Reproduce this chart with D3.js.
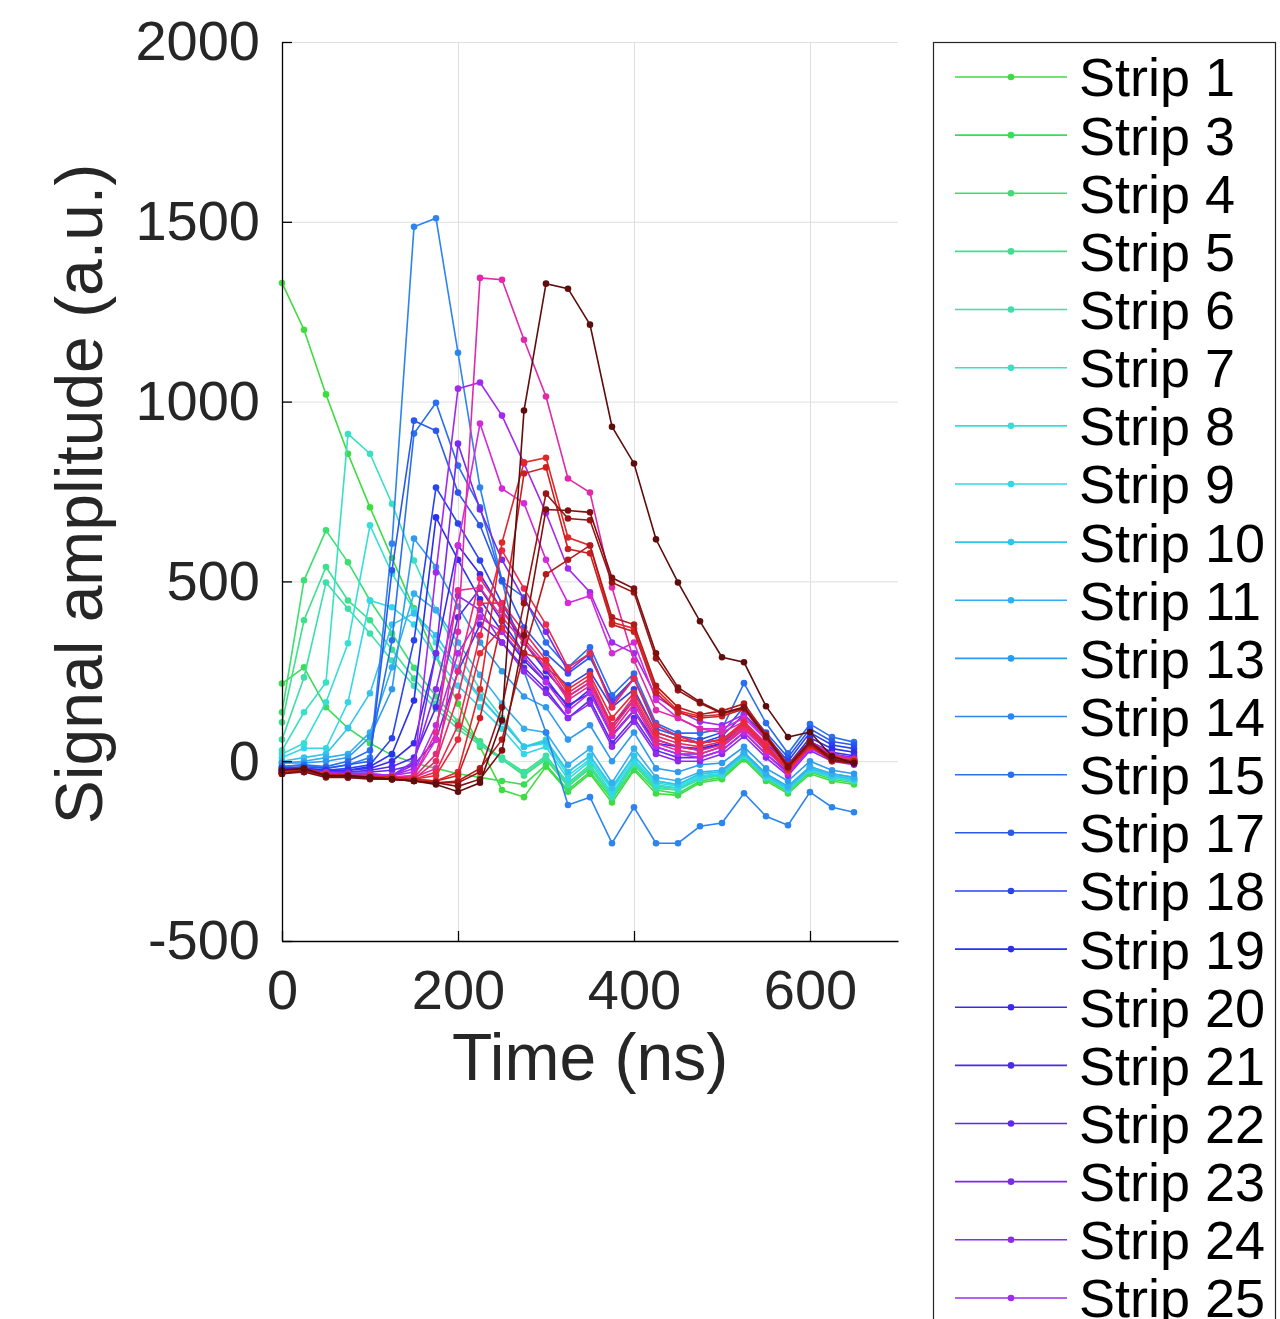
<!DOCTYPE html>
<html>
<head>
<meta charset="utf-8">
<script src="https://cdn.jsdelivr.net/npm/d3@7"></script>
<style>
    body { margin: 0; background: #fff; }
    svg { display: block; font-family: "Liberation Sans", Arial, Helvetica, sans-serif; }
    .grid line { stroke: #dfdfdf; stroke-width: 1; }
    .grid path { display: none; }
    .axis path, .axis line { stroke: #000; stroke-width: 1.3; }
    .axis text { font-size: 56px; fill: #262626; }
    .title2 { font-size: 66px; fill: #262626; }
    .legend-label { font-size: 54px; fill: #000; }
</style>
</head>
<body>
<div id="chart"></div>
<script>

// sample times (ns)
var timeNs = [0, 25, 50, 75, 100, 125, 150, 175, 200, 225, 250, 275, 300, 325,
    350, 375, 400, 425, 450, 475, 500, 525, 550, 575, 600, 625, 650];

var stripNumbers = [1, 3, 4, 5, 6, 7, 8, 9, 10, 11, 13, 14, 15, 17, 18, 19, 20, 21,
    22, 23, 24, 25, 26, 27, 28, 29, 30, 31, 33, 34, 35, 36, 37, 38, 39, 40];

var yTicks = [-500, 0, 500, 1000, 1500, 2000];
var xTicks = [0, 200, 400, 600];

// signal amplitude (a.u.) per strip, one value per sample time
var s01 = [1330, 1200, 1020, 855, 706, 565, 425, 290, 160, 40, -80, -100, -15, -85, -35, -115, -25, -90, -95, -60, -50, 5, -55, -90, -35, -55, -65];
var s03 = [216, 261, 150, 92, 50, 17, -5, -20, -35, -45, -55, -65, -10, -80, -30, -105, -20, -80, -90, -55, -45, 10, -50, -85, -30, -50, -60];
var s04 = [136, 503, 642, 553, 447, 355, 260, 180, 110, 55, 5, -40, 5, -70, -20, -100, -10, -75, -80, -45, -40, 15, -45, -80, -25, -45, -55];
var s05 = [108, 392, 540, 447, 392, 310, 230, 160, 100, 50, 10, -30, 15, -60, -10, -95, -5, -70, -75, -45, -35, 20, -40, -75, -20, -40, -50];
var s06 = [60, 233, 497, 424, 355, 280, 210, 145, 90, 45, 5, -35, 10, -65, -15, -100, -10, -75, -80, -50, -40, 15, -45, -80, -25, -45, -55];
var s07 = [30, 136, 219, 910, 855, 716, 558, 420, 300, 200, 120, 40, 60, -30, 15, -70, 15, -55, -65, -35, -30, 25, -35, -70, -15, -35, -45];
var s08 = [20, 50, 164, 328, 656, 522, 420, 330, 250, 175, 110, 40, 50, -40, 5, -80, 5, -60, -70, -40, -35, 20, -40, -75, -20, -40, -50];
var s09 = [10, 36, 36, 164, 447, 428, 380, 290, 210, 150, 90, 20, 40, -50, 0, -90, 0, -65, -75, -45, -35, 15, -45, -80, -25, -45, -55];
var s10 = [0, 10, 20, 92, 189, 380, 411, 350, 260, 180, 110, 40, 55, -30, 15, -75, 15, -55, -65, -35, -30, 20, -40, -75, -20, -40, -50];
var s11 = [-5, 0, 10, 20, 80, 261, 466, 420, 330, 240, 160, 90, 80, -10, 35, -60, 35, -45, -55, -30, -25, 25, -35, -70, -15, -35, -45];
var s13 = [-5, -5, 0, 10, 67, 200, 619, 540, 430, 330, 250, 180, 150, 60, 100, 0, 80, -20, -30, -10, -5, 40, -20, -55, 0, -25, -35];
var s14 = [-15, -10, -20, -10, 10, 605, 1486, 1510, 1136, 761, 503, 250, 80, -122, -100, -228, -128, -228, -228, -181, -172, -89, -153, -178, -86, -128, -142];
var s15 = [-15, -10, -15, 0, 30, 336, 911, 997, 822, 706, 500, 456, 330, 261, 317, 183, 244, 106, 78, 78, 90, 217, 106, 22, 103, 67, 53];
var s17 = [-20, -15, -20, -10, 0, 531, 947, 919, 747, 656, 503, 372, 300, 244, 289, 167, 230, 90, 70, 60, 80, 150, 80, 10, 90, 55, 45];
var s18 = [-20, -20, -25, -20, -10, 64, 336, 761, 661, 558, 439, 330, 260, 211, 250, 150, 200, 80, 60, 50, 70, 130, 70, 0, 80, 45, 35];
var s19 = [-20, -20, -25, -25, -15, 20, 169, 678, 560, 450, 360, 280, 220, 156, 189, 72, 142, 50, 40, 35, 50, 110, 50, -10, 65, 35, 25];
var s20 = [-25, -20, -30, -25, -20, 0, 50, 300, 600, 520, 420, 330, 250, 180, 220, 100, 170, 60, 40, 30, 50, 100, 40, -20, 55, 25, 15];
var s21 = [-25, -20, -30, -30, -25, -15, 10, 150, 400, 480, 390, 300, 230, 150, 200, 70, 140, 40, 20, 20, 40, 90, 30, -25, 45, 15, 5];
var s22 = [-25, -25, -30, -30, -30, -25, -10, 60, 250, 380, 330, 260, 200, 120, 170, 50, 120, 30, 10, 10, 30, 80, 20, -30, 40, 10, 0];
var s23 = [-30, -30, -35, -35, -40, -40, -10, 300, 883, 700, 560, 450, 360, 250, 300, 160, 230, 100, 70, 50, 60, 100, 40, -20, 50, 20, 10];
var s24 = [-30, -25, -35, -35, -35, -40, 0, 200, 460, 420, 330, 250, 190, 120, 160, 40, 110, 20, 0, 0, 20, 70, 10, -40, 30, 0, -10];
var s25 = [-30, -25, -30, -35, -35, -40, -20, 525, 1036, 1053, 961, 828, 690, 536, 470, 330, 300, 180, 140, 110, 100, 130, 60, -20, 50, 10, 0];
var s26 = [-30, -30, -35, -40, -40, -40, -30, 100, 300, 400, 360, 290, 220, 140, 190, 70, 140, 40, 20, 10, 30, 80, 20, -35, 35, 5, -5];
var s27 = [-30, -30, -35, -40, -40, -45, -40, 60, 600, 939, 758, 717, 560, 440, 460, 300, 330, 170, 120, 90, 90, 120, 60, -10, 55, 20, 5];
var s28 = [-30, -30, -35, -40, -45, -45, -45, -20, 360, 1344, 1339, 1172, 1014, 786, 747, 483, 280, 142, 120, 90, 80, 110, 50, -30, 40, 10, 0];
var s29 = [-30, -25, -35, -40, -40, -45, -40, 80, 475, 483, 400, 330, 260, 170, 210, 80, 160, 50, 30, 20, 40, 90, 30, -25, 40, 10, 0];
var s30 = [-30, -25, -35, -40, -45, -45, -45, 20, 250, 508, 420, 340, 270, 180, 220, 90, 170, 60, 40, 30, 45, 95, 35, -25, 40, 10, 0];
var s31 = [-30, -25, -35, -40, -45, -45, -50, 0, 180, 439, 440, 360, 281, 190, 230, 100, 180, 70, 50, 40, 55, 100, 40, -20, 45, 15, 5];
var s33 = [-30, -25, -40, -40, -45, -45, -50, -30, 100, 350, 586, 480, 380, 260, 300, 150, 230, 100, 70, 50, 60, 110, 45, -20, 45, 10, 0];
var s34 = [-35, -25, -40, -40, -45, -50, -50, -40, 60, 300, 372, 300, 281, 200, 240, 120, 190, 80, 60, 50, 60, 105, 40, -25, 40, 5, -5];
var s35 = [-30, -20, -35, -40, -40, -45, -50, -55, -30, 200, 608, 831, 844, 622, 600, 386, 369, 200, 140, 125, 130, 150, 70, -15, 50, 5, 0];
var s36 = [-35, -20, -40, -40, -45, -45, -50, -55, -40, 120, 392, 800, 817, 590, 578, 380, 360, 190, 135, 120, 125, 145, 65, -20, 45, 0, -5];
var s37 = [-35, -25, -40, -45, -45, -50, -55, -60, -55, -20, 60, 300, 520, 560, 600, 400, 380, 210, 150, 130, 140, 160, 75, -10, 55, 10, 0];
var s38 = [-35, -25, -40, -45, -45, -50, -55, -60, -60, -30, 150, 439, 744, 675, 670, 497, 469, 286, 197, 161, 133, 147, 67, -17, 50, 3, -6];
var s39 = [-35, -30, -45, -45, -50, -50, -55, -60, -70, -50, 30, 350, 700, 697, 692, 510, 480, 300, 205, 165, 135, 150, 70, -15, 55, 5, -5];
var s40 = [-25, -20, -40, -40, -45, -50, -55, -65, -85, -60, 114, 975, 1328, 1314, 1214, 930, 828, 617, 497, 389, 289, 275, 153, 67, 81, 14, -6];

var amplitudes = [s01, s03, s04, s05, s06, s07, s08, s09, s10, s11, s13, s14, s15, s17, s18, s19,
    s20, s21, s22, s23, s24, s25, s26, s27, s28, s29, s30, s31, s33, s34, s35, s36, s37, s38, s39, s40];

var stripColors = ['#3fdc3f', '#3ddc55', '#3ddf70', '#3de08c', '#3de0a8', '#38e0c4', '#35dfd8', '#33d8e6',
    '#33c4ee', '#33aeee', '#2f99ee', '#2c84ee', '#2a70ee', '#2a58ee', '#2a44ee', '#2a30ee', '#3a2aee',
    '#4c2aee', '#5e2aee', '#782aee', '#8c2aee', '#a22aee', '#bb2aea', '#d42ad8', '#e02aa8', '#e82a90',
    '#ea2a78', '#ec2a62', '#ec2a4c', '#ea2a38', '#e02828', '#cc2020', '#b41a1a', '#9a1414', '#7e1010', '#5e0c0c'];


SignalChart = function(_parentElement) {
    this.parentElement = _parentElement;
    this.initVis();
};

SignalChart.prototype.initVis = function() {
    var vis = this;

    vis.margin = {top: 42, left: 282};
    vis.width = 616;
    vis.height = 899;

    vis.svg = d3.select(vis.parentElement)
        .append("svg")
        .attr("width", 1280)
        .attr("height", 1319);

    vis.chart = vis.svg.append("g")
        .attr("transform", "translate(" + vis.margin.left + "," + vis.margin.top + ")");

    vis.x = d3.scaleLinear()
        .domain([0, 700])
        .range([0, vis.width]);

    vis.y = d3.scaleLinear()
        .domain([-500, 2000])
        .range([vis.height, 0]);

    vis.wrangleData();
};

SignalChart.prototype.wrangleData = function() {
    var vis = this;

    vis.series = stripNumbers.map(function(strip, i) {
        return {
            name: "Strip " + strip,
            color: stripColors[i],
            values: timeNs.map(function(t, j) { return {t: t, v: amplitudes[i][j]}; })
        };
    });

    vis.updateVis();
};

SignalChart.prototype.updateVis = function() {
    var vis = this;
    var plain = function(d) { return String(d); };

    // grid
    vis.chart.append("g")
        .attr("class", "grid")
        .call(d3.axisLeft(vis.y).tickValues(yTicks)
            .tickSize(-vis.width).tickFormat(""));

    vis.chart.append("g")
        .attr("class", "grid")
        .attr("transform", "translate(0," + vis.height + ")")
        .call(d3.axisBottom(vis.x).tickValues(xTicks)
            .tickSize(-vis.height).tickFormat(""));

    var line = d3.line()
        .x(function(d) { return vis.x(d.t); })
        .y(function(d) { return vis.y(d.v); });

    vis.strips = vis.chart.selectAll(".strip")
        .data(vis.series)
        .enter().append("g")
        .attr("class", "strip");

    vis.strips.append("path")
        .attr("d", function(d) { return line(d.values); })
        .attr("fill", "none")
        .attr("stroke", function(d) { return d.color; })
        .attr("stroke-width", 1.6);

    vis.strips.selectAll("circle")
        .data(function(d) { return d.values.map(function(p) { return {t: p.t, v: p.v, color: d.color}; }); })
        .enter().append("circle")
        .attr("cx", function(d) { return vis.x(d.t); })
        .attr("cy", function(d) { return vis.y(d.v); })
        .attr("r", 3.3)
        .attr("fill", function(d) { return d.color; });

    // axes (ticks point inward)
    vis.chart.append("g")
        .attr("class", "axis")
        .call(d3.axisLeft(vis.y).tickValues(yTicks).tickFormat(plain)
            .tickSize(-10).tickSizeOuter(0).tickPadding(22));

    vis.chart.append("g")
        .attr("class", "axis")
        .attr("transform", "translate(0," + vis.height + ")")
        .call(d3.axisBottom(vis.x).tickValues(xTicks).tickFormat(plain)
            .tickSize(-10).tickSizeOuter(0).tickPadding(28));

    vis.chart.append("text")
        .attr("class", "title2")
        .attr("x", 308)
        .attr("y", 1080 - vis.margin.top)
        .style("text-anchor", "middle")
        .text("Time (ns)");

    vis.chart.append("text")
        .attr("class", "title2")
        .attr("transform", "rotate(-90)")
        .attr("x", -(494 - vis.margin.top))
        .attr("y", 102 - vis.margin.left)
        .style("text-anchor", "middle")
        .text("Signal amplitude (a.u.)");

    // legend: box runs past the bottom edge, only the first entries fit in view
    var step = 58.14;
    var shown = vis.series.slice(0, 22);

    vis.legend = vis.svg.append("g")
        .attr("transform", "translate(933,42)");

    vis.legend.append("rect")
        .attr("x", 0.5)
        .attr("y", 0.5)
        .attr("width", 342)
        .attr("height", 36 + vis.series.length * step)
        .attr("fill", "#fff")
        .attr("stroke", "#262626")
        .attr("stroke-width", 1.2);

    var item = vis.legend.selectAll(".legend-item")
        .data(shown)
        .enter().append("g")
        .attr("class", "legend-item")
        .attr("transform", function(d, i) { return "translate(0," + (35 + i * step) + ")"; });

    item.append("line")
        .attr("x1", 22).attr("x2", 134)
        .attr("stroke", function(d) { return d.color; })
        .attr("stroke-width", 1.6);

    item.append("circle")
        .attr("cx", 78)
        .attr("r", 3.3)
        .attr("fill", function(d) { return d.color; });

    item.append("text")
        .attr("class", "legend-label")
        .attr("x", 146)
        .attr("dy", "0.36em")
        .text(function(d) { return d.name; });
};

var signalChart = new SignalChart("#chart");
</script>
</body>
</html>
